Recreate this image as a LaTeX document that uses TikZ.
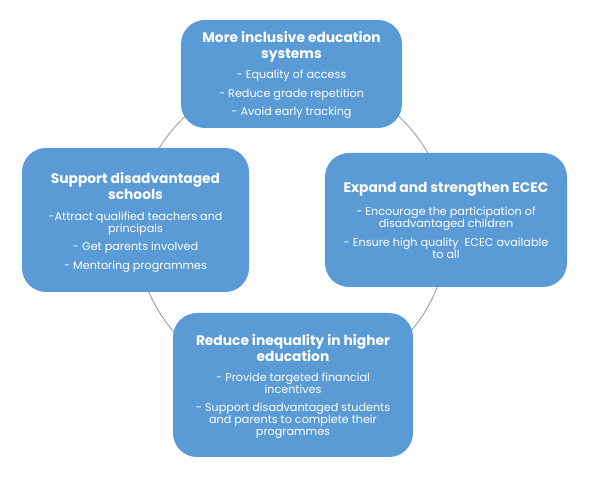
\documentclass[tikz,border=0pt]{standalone}
\usepackage{fontspec}
\setmainfont{Poppins}
\definecolor{boxblue}{HTML}{5B9BD5}
\definecolor{ringcol}{HTML}{8296B8}
\begin{document}
\begin{tikzpicture}[x=1pt,y=-1pt,
  box/.style={draw=none,fill=boxblue,rounded corners=24pt,inner sep=0pt},
  head/.style={text=white,align=center,font=\fontsize{13.8}{16}\selectfont\bfseries,inner sep=0pt},
  item/.style={text=white,align=center,font=\fontsize{11.2}{11.8}\selectfont,inner sep=0pt},
  ring/.style={draw=ringcol,line width=0.8pt}]
\useasboundingbox (0,0) rectangle (590,478);
\draw[ring] (292,230) circle (156);
% boxes
\node[box,minimum width=221pt,minimum height=108pt] (top) at (291.5,74) {};
\node[box,minimum width=227pt,minimum height=144pt] (left) at (135.5,220) {};
\node[box,minimum width=242pt,minimum height=134pt] (right) at (446,220) {};
\node[box,minimum width=240pt,minimum height=144pt] (bottom) at (293,385) {};
% top text
\node[head] (top-h) at (291.5,47) {More inclusive education\\systems};
\node[item] (top-1) at (291.5,76) {- Equality of access};
\node[item] (top-2) at (291.5,95) {- Reduce grade repetition};
\node[item] (top-3) at (291.5,113) {- Avoid early tracking};
% left text
\node[head] (left-h) at (135.5,186) {Support disadvantaged\\schools};
\node[item] (left-1) at (135.5,223.5) {-Attract qualified teachers and\\principals};
\node[item] (left-2) at (135.5,248) {- Get parents involved};
\node[item] (left-3) at (135.5,267) {- Mentoring programmes};
% right text
\node[head] (right-h) at (446,189) {Expand and strengthen ECEC};
\node[item] (right-1) at (446,219) {- Encourage the participation of\\disadvantaged children};
\node[item] (right-2) at (446,248) {- Ensure high quality\ \ ECEC available\\to all};
% bottom text
\node[head] (bottom-h) at (293,348) {Reduce inequality in higher\\education};
\node[item] (bottom-1) at (293,383.5) {- Provide targeted financial\\incentives};
\node[item] (bottom-2) at (293,421) {- Support disadvantaged students\\and parents to complete their\\programmes};
\end{tikzpicture}
\end{document}
